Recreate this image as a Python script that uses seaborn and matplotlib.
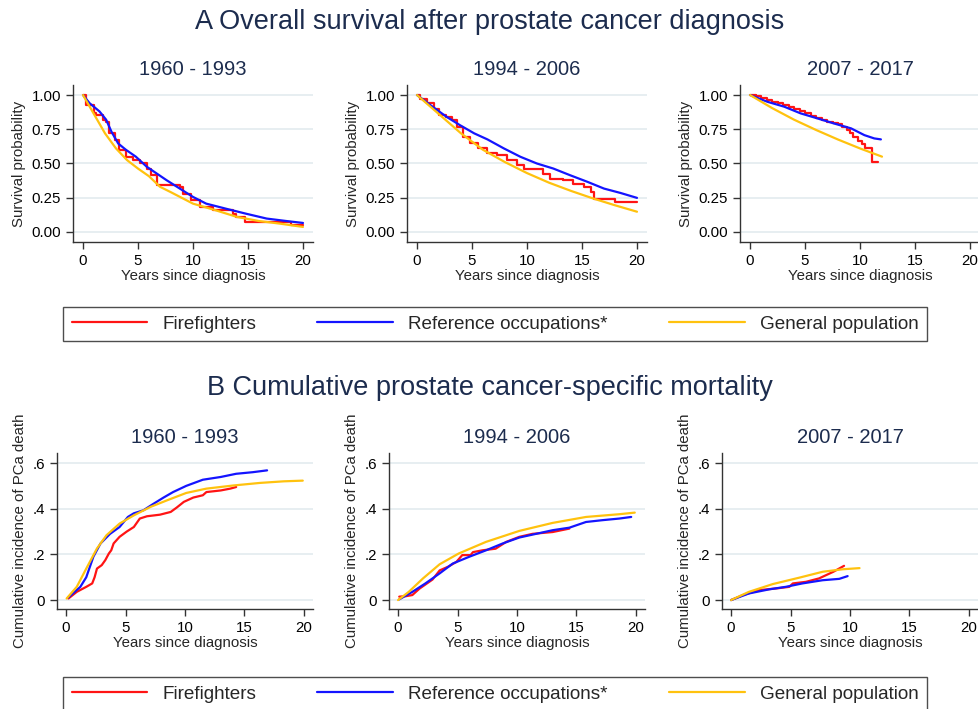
import numpy as np
import matplotlib
matplotlib.use("Agg")
import matplotlib.pyplot as plt
import pandas as pd
import seaborn as sns
from matplotlib.lines import Line2D

periods = ["1960 - 1993", "1994 - 2006", "2007 - 2017"]
group_names = ["Firefighters", "Reference occupations*", "General population"]
group_colours = ["#ff1414", "#1414ff", "#ffc20e"]

# A: overall survival (one list per period)
ff_surv_t = [
    [0, 0.3, 1.0, 1.2, 1.8, 2.1, 2.4, 2.9, 3.3, 3.9, 4.5, 5.2, 5.8, 6.2, 6.7,
     8.8, 9.1, 9.8, 10.6, 11.8, 13.6, 13.9, 14.7, 18.9, 20],
    [0, 0.3, 0.9, 1.5, 2.0, 2.6, 3.2, 3.6, 4.2, 4.8, 5.5, 6.4, 7.3, 8.2, 9.1,
     9.7, 11.5, 12.1, 13.3, 14.2, 15.2, 15.8, 16.1, 18.0, 20],
    [0, 0.5, 1.0, 1.5, 2.0, 2.5, 3.0, 3.5, 4.0, 4.5, 5.0, 5.5, 6.0, 6.5, 7.0,
     7.5, 8.0, 8.4, 8.8, 9.1, 9.4, 9.8, 10.2, 10.5, 11.1, 11.6],
]
ff_surv = [
    [1.0, 0.927, 0.87, 0.854, 0.82, 0.80, 0.72, 0.67, 0.60, 0.55, 0.524, 0.50,
     0.463, 0.415, 0.34, 0.33, 0.28, 0.232, 0.183, 0.16, 0.134, 0.11, 0.073, 0.05, 0.05],
    [1.0, 0.968, 0.94, 0.90, 0.854, 0.84, 0.817, 0.77, 0.695, 0.646, 0.61, 0.573,
     0.56, 0.524, 0.488, 0.463, 0.427, 0.39, 0.378, 0.354, 0.329, 0.293, 0.244, 0.22, 0.22],
    [1.0, 0.99, 0.975, 0.962, 0.95, 0.94, 0.925, 0.912, 0.90, 0.885, 0.87, 0.85,
     0.835, 0.82, 0.805, 0.795, 0.785, 0.768, 0.745, 0.72, 0.695, 0.665, 0.64,
     0.615, 0.51, 0.51],
]
ref_surv_t = [
    [0, 0.6, 1.5, 2.1, 2.6, 3.2, 3.9, 4.8, 5.8, 6.7, 7.6, 8.8, 10.0, 11.2, 13.0,
     14.8, 16.7, 18.5, 20],
    [0, 1.2, 2.7, 3.9, 5.2, 6.4, 7.9, 9.4, 10.9, 12.4, 13.9, 15.5, 17.0, 18.5, 20],
    [0, 1.6, 3.1, 4.6, 6.1, 7.6, 9.2, 10.4, 11.3, 11.9],
]
ref_surv = [
    [1.0, 0.94, 0.88, 0.82, 0.73, 0.646, 0.60, 0.55, 0.476, 0.427, 0.378, 0.317,
     0.256, 0.207, 0.17, 0.134, 0.098, 0.08, 0.066],
    [1.0, 0.927, 0.84, 0.78, 0.72, 0.676, 0.61, 0.549, 0.50, 0.463, 0.415, 0.366,
     0.317, 0.285, 0.249],
    [1.0, 0.95, 0.915, 0.866, 0.83, 0.793, 0.756, 0.707, 0.683, 0.676],
]
gen_surv_t = [
    [0, 1, 2, 3, 4, 5, 6, 7, 8, 10, 12, 14, 16, 18, 20],
    [0, 1, 2, 3, 4, 5, 6, 8, 10, 12, 14, 16, 18, 20],
    [0, 2, 4, 6, 8, 10, 12],
]
gen_surv = [
    [1.0, 0.86, 0.72, 0.61, 0.525, 0.463, 0.407, 0.33, 0.29, 0.207, 0.16, 0.11,
     0.08, 0.06, 0.037],
    [1.0, 0.93, 0.86, 0.79, 0.72, 0.66, 0.60, 0.51, 0.43, 0.36, 0.30, 0.245, 0.195, 0.148],
    [1.0, 0.905, 0.82, 0.745, 0.675, 0.61, 0.55],
]

# B: cumulative incidence of PCa death
ff_cif_t = [
    [0.2, 0.9, 1.7, 2.2, 2.4, 2.6, 3.0, 3.3, 3.6, 3.8, 4.0, 4.5, 5.1, 5.7, 6.2,
     6.8, 7.9, 8.8, 9.3, 9.9, 10.7, 11.5, 11.8, 13.0, 13.8, 14.3],
    [0.1, 0.65, 1.2, 1.8, 2.9, 3.5, 4.2, 4.9, 5.4, 6.1, 6.3, 7.1, 8.2, 9.1, 10.2,
     11.3, 13.0, 14.4],
    [0, 1.0, 2.4, 3.8, 4.9, 5.2, 6.3, 7.4, 8.6, 9.5],
]
ff_cif = [
    [0.007, 0.036, 0.058, 0.073, 0.10, 0.138, 0.153, 0.175, 0.204, 0.218, 0.248,
     0.277, 0.30, 0.32, 0.357, 0.367, 0.374, 0.386, 0.405, 0.43, 0.449, 0.459,
     0.473, 0.48, 0.488, 0.495],
    [0.015, 0.017, 0.022, 0.05, 0.09, 0.13, 0.146, 0.167, 0.197, 0.197, 0.21,
     0.218, 0.225, 0.255, 0.277, 0.29, 0.298, 0.313],
    [0, 0.022, 0.044, 0.051, 0.058, 0.073, 0.08, 0.095, 0.124, 0.15],
]
ref_cif_t = [
    [0.2, 1.2, 1.7, 2.3, 2.9, 3.7, 4.5, 5.2, 5.7, 6.5, 7.3, 8.2, 9.0, 10.1, 11.5,
     13.0, 14.3, 15.7, 16.9],
    [0.1, 1.2, 2.3, 3.5, 4.6, 6.0, 7.4, 8.8, 10.2, 11.6, 13.0, 14.4, 15.8, 17.2,
     18.6, 19.6],
    [0, 1.5, 3.2, 4.6, 6.0, 7.7, 9.1, 9.8],
]
ref_cif = [
    [0.012, 0.058, 0.10, 0.19, 0.248, 0.29, 0.32, 0.364, 0.38, 0.393, 0.42, 0.449,
     0.473, 0.50, 0.527, 0.539, 0.553, 0.56, 0.568],
    [0.003, 0.036, 0.073, 0.117, 0.16, 0.19, 0.218, 0.248, 0.274, 0.29, 0.306,
     0.317, 0.342, 0.35, 0.357, 0.364],
    [0, 0.029, 0.047, 0.058, 0.073, 0.087, 0.093, 0.105],
]
gen_cif_t = [
    [0.05, 0.9, 1.7, 2.6, 3.4, 4.5, 5.7, 7.1, 8.5, 10.1, 11.8, 14.1, 16.3, 18.3, 19.9],
    [0, 0.9, 2.1, 3.5, 5.1, 7.4, 10.2, 13.0, 15.8, 18.6, 19.9],
    [0, 1.5, 3.5, 5.8, 7.7, 9.4, 10.8],
]
gen_cif = [
    [0.007, 0.058, 0.138, 0.226, 0.284, 0.335, 0.371, 0.408, 0.437, 0.469, 0.488,
     0.502, 0.513, 0.52, 0.523],
    [0.0, 0.036, 0.095, 0.157, 0.204, 0.255, 0.303, 0.338, 0.364, 0.376, 0.383],
    [0, 0.036, 0.07, 0.099, 0.124, 0.135, 0.14],
]

W, H = 979, 709
navy = "#1c2c4e"
axis_grey = "#333333"
label_size = 10.8

sns.set_style("ticks")
plt.rcParams["font.family"] = ["Liberation Sans", "DejaVu Sans"]


#place an axes by its pixel box (left, top, width, height)
def PixelAxes(fig, left, top, width, height):
    return fig.add_axes([left / W, 1 - (top + height) / H, width / W, height / H])


def DrawPanel(ax, series, step_red):
    for k in range(3):
        t, v = series[k]
        df = pd.DataFrame({"t": t, "v": v})
        style = "steps-post" if (k == 0 and step_red) else "default"
        sns.lineplot(data=df, x="t", y="v", ax=ax, color=group_colours[k],
                     lw=1.6, estimator=None, sort=False, drawstyle=style)
    ax.yaxis.grid(True, color="#e3ebef", lw=1.2)
    ax.set_axisbelow(True)
    sns.despine(ax=ax)
    for s in ["left", "bottom"]:
        ax.spines[s].set_color(axis_grey)
        ax.spines[s].set_linewidth(1.0)
    ax.tick_params(direction="out", length=5, width=1, color=axis_grey,
                   labelsize=label_size, labelcolor="black")
    ax.set_xticks([0, 5, 10, 15, 20])
    ax.set_xlabel("Years since diagnosis", fontsize=label_size, labelpad=1)


#legend box given by its pixel top and bottom
def DrawLegend(fig, top, bottom):
    handles = [Line2D([], [], color=c, lw=1.6) for c in group_colours]
    leg = fig.legend(handles, group_names, loc="upper left", ncol=3,
                     bbox_to_anchor=(63 / W, 1 - bottom / H, 864 / W, (bottom - top) / H),
                     mode="expand", fontsize=13.6, handlelength=4.0,
                     handletextpad=0.8, borderaxespad=0, borderpad=0.45,
                     fancybox=False, frameon=True)
    leg.get_frame().set_edgecolor("#222222")
    leg.get_frame().set_linewidth(1.0)
    return leg


fig = plt.figure(figsize=(W / 100, H / 100), dpi=100)

fig.text(0.5, 1 - 22 / H, "A Overall survival after prostate cancer diagnosis",
         ha="center", va="center", fontsize=19.5, color=navy)
fig.text(0.5, 1 - 388 / H, "B Cumulative prostate cancer-specific mortality",
         ha="center", va="center", fontsize=19.5, color=navy)

for i, left in enumerate([73, 407, 740]):
    ax = PixelAxes(fig, left, 85, 240, 157)
    DrawPanel(ax, [(ff_surv_t[i], ff_surv[i]), (ref_surv_t[i], ref_surv[i]),
                   (gen_surv_t[i], gen_surv[i])], True)
    ax.set_xlim(-0.91, 20.91)
    ax.set_ylim(-0.073, 1.073)
    ax.set_yticks([0, 0.25, 0.5, 0.75, 1.0])
    ax.set_yticklabels(["0.00", "0.25", "0.50", "0.75", "1.00"])
    ax.set_ylabel("Survival probability", fontsize=label_size)
    ax.set_title(periods[i], fontsize=14.5, color=navy, pad=7)

for i, left in enumerate([57, 389, 722]):
    ax = PixelAxes(fig, left, 453, 256, 156)
    DrawPanel(ax, [(ff_cif_t[i], ff_cif[i]), (ref_cif_t[i], ref_cif[i]),
                   (gen_cif_t[i], gen_cif[i])], False)
    ax.set_xlim(-0.76, 20.76)
    ax.set_ylim(-0.039, 0.644)
    ax.set_yticks([0, 0.2, 0.4, 0.6])
    ax.set_yticklabels(["0", ".2", ".4", ".6"])
    ax.set_ylabel("Cumulative incidence of PCa death", fontsize=label_size)
    ax.set_title(periods[i], fontsize=14.5, color=navy, pad=7)

DrawLegend(fig, 307, 344)
DrawLegend(fig, 677, 714)

fig.savefig("out.png", dpi=100)
